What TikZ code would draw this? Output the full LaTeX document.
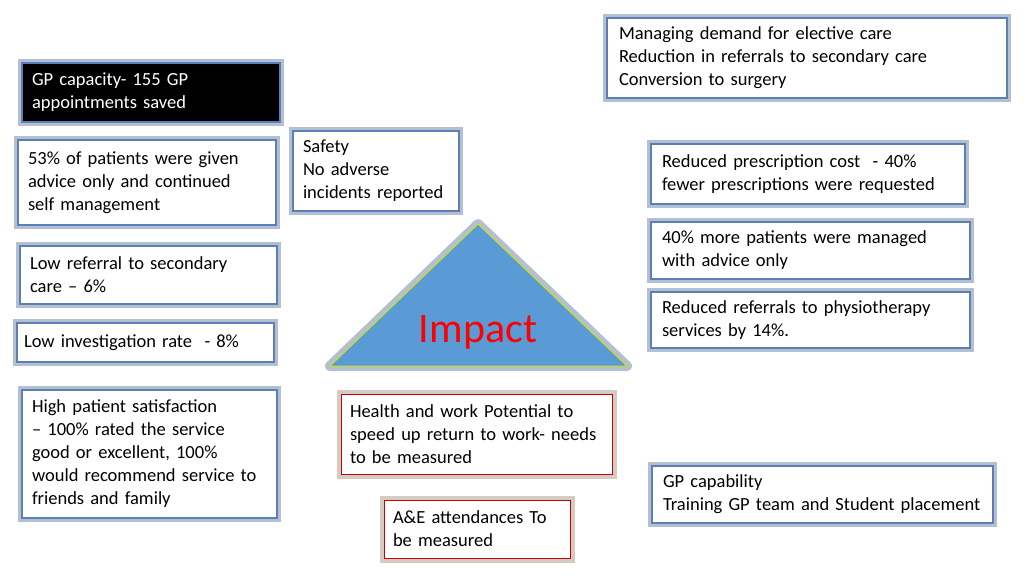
\documentclass[tikz,border=0pt]{standalone}
\usepackage{fontspec}
\setmainfont{Carlito}
\usetikzlibrary{positioning}
\definecolor{boxline}{HTML}{5B80B8}
\definecolor{boxglow}{HTML}{B4BFD2}
\definecolor{triblue}{HTML}{5B9BD5}
\begin{document}
\begin{tikzpicture}[x=1pt, y=-1pt,
    % box styles
    info_box/.style={rectangle, draw=boxline, fill=white, line width=2pt,
                    preaction={draw=boxglow, line width=8pt},
                    align=left, inner sep=0pt, font=\fontsize{18.5}{23}\selectfont},
    red_box/.style={info_box, draw=red!80!black, line width=1pt,
                   preaction={draw=brown!30!gray!40, line width=9pt}},
    black_box/.style={info_box, fill=black, text=white}
]
\useasboundingbox (0,0) rectangle (1024,576);

% Right column
\node[info_box, minimum width=400pt, minimum height=80pt, text width=376pt] (demand) at (807,58)
    {Managing demand for elective care\\Reduction in referrals to secondary care\\Conversion to surgery};
\node[info_box, minimum width=314pt, minimum height=60pt, text width=292pt] (prescr) at (808,174)
    {Reduced prescription cost ~- 40\%\\fewer prescriptions were requested};
\node[info_box, minimum width=319pt, minimum height=57pt, text width=297pt] (advice) at (810.5,250.5)
    {40\% more patients were managed\\with advice only};
\node[info_box, minimum width=319pt, minimum height=56pt, text width=297pt] (physio) at (810.5,320)
    {Reduced referrals to physiotherapy\\services by 14\%.};
\node[info_box, minimum width=341pt, minimum height=57pt, text width=319pt] (capab) at (822.5,494.5)
    {GP capability\\Training GP team and Student placement};

% Left column
\node[black_box, minimum width=258pt, minimum height=59pt, text width=238pt] (gpcap) at (151,92.5)
    {GP capacity- 155 GP\\appointments saved};
\node[info_box, minimum width=258pt, minimum height=85pt, text width=238pt] (selfman) at (147,182.5)
    {53\% of patients were given\\advice only and continued\\self management};
\node[info_box, minimum width=257pt, minimum height=58pt, text width=237pt] (lowref) at (148.5,275)
    {Low referral to secondary\\care -- 6\%};
\node[info_box, minimum width=257pt, minimum height=39pt, text width=243pt] (lowinv) at (145.5,342.5)
    {Low investigation rate ~- 8\%};
\node[info_box, minimum width=255pt, minimum height=128pt, text width=235pt] (satis) at (149.5,454)
    {High patient satisfaction\\-- 100\% rated the service\\good or excellent, 100\%\\would recommend service to\\friends and family};

% Middle
\node[info_box, minimum width=166pt, minimum height=80pt, text width=146pt] (safety) at (376,171)
    {Safety\\No adverse\\incidents reported};
\node[red_box, minimum width=271pt, minimum height=80pt, text width=253pt] (health) at (476.5,434)
    {Health and work Potential to\\speed up return to work- needs\\to be measured};
\node[red_box, minimum width=186pt, minimum height=58pt, text width=168pt] (ae) at (477,529)
    {A\&E attendances To\\be measured};

% Central triangle
\coordinate (apex) at (478,224);
\coordinate (baseL) at (330,366);
\coordinate (baseR) at (627,366);
\draw[draw=yellow!80!green, fill=triblue, line width=1pt,
      preaction={draw=boxglow, line width=10pt, line join=round}]
    (apex) -- (baseR) -- (baseL) -- cycle;
\node[text=red, font=\fontsize{42}{46}\selectfont] (impact) at (478,332) {Impact};
\end{tikzpicture}
\end{document}
